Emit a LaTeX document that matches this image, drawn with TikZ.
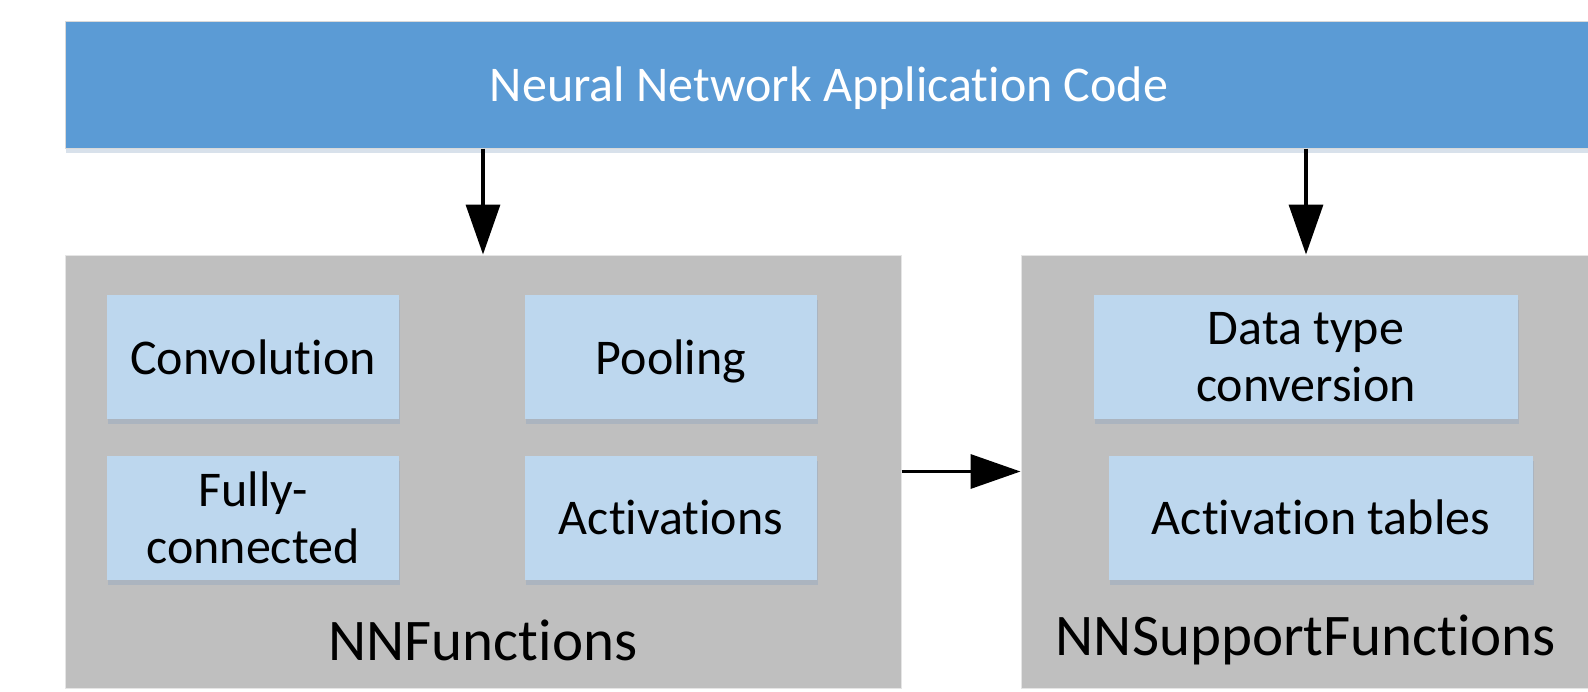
\documentclass[tikz,border=0pt]{standalone}
\usepackage{fontspec}
\setmainfont{Carlito}[Ligatures=NoCommon]
\usepackage{tikz}
\usetikzlibrary{arrows.meta,shadows}

\definecolor{appblue}{HTML}{5B9BD5}
\definecolor{grpgray}{HTML}{BFBFBF}
\definecolor{itemblue}{HTML}{BDD7EE}
\definecolor{shadowblue}{HTML}{7F9DBF}

\begin{document}
\begin{tikzpicture}[x=1pt,y=-1pt,
    softshadow/.style={drop shadow={shadow xshift=1pt,shadow yshift=-5pt,fill=shadowblue,opacity=.3}},
    app/.style={fill=appblue, draw=black!15, line width=1pt, minimum width=1528pt, minimum height=127pt,
      text=white, text depth=0pt, font=\fontsize{50}{57}\selectfont, softshadow},
    group/.style={fill=grpgray, draw=black!10, line width=1pt, minimum height=433pt, inner sep=0pt},
    item/.style={fill=itemblue, minimum height=124pt, align=center, text depth=0pt,
      font=\fontsize{50}{57}\selectfont, softshadow},
    grouplabel/.style={font=\fontsize{59}{64}\selectfont},
    arr/.style={-{Triangle[length=50pt,width=34pt]}, line width=3.5pt}]
    \useasboundingbox (0,0) rectangle (1588,691);
    \fill[white] (0,0) rectangle (1588,691);

    \node[app] (app) at (829,84.5) {Neural Network Application Code};

    \node[group, minimum width=836pt] (nnf) at (483,471.5) {};
    \node[group, minimum width=570pt] (nns) at (1306,471.5) {};

    \node[item, minimum width=292pt] (conv) at (253,357) {Convolution};
    \node[item, minimum width=292pt] (pool) at (671,357) {Pooling};
    \node[item, minimum width=292pt] (fc) at (253,517.5) {Fully-\\connected};
    \node[item, minimum width=292pt] (act) at (671,517.5) {Activations};
    \node[item, minimum width=424pt] (dtc) at (1306,357) {Data type\\conversion};
    \node[item, minimum width=424pt] (actt) at (1321,517.5) {Activation tables};

    \node[grouplabel] (nnflabel) at (483,640) {NNFunctions};
    \node[grouplabel] (nnslabel) at (1306,640) {NNSupportFunctions};

    \draw[arr] (app.south -| nnf.north) -- (nnf.north);
    \draw[arr] (app.south -| nns.north) -- (nns.north);
    \draw[arr] (nnf.east) -- (nns.west);
\end{tikzpicture}
\end{document}
